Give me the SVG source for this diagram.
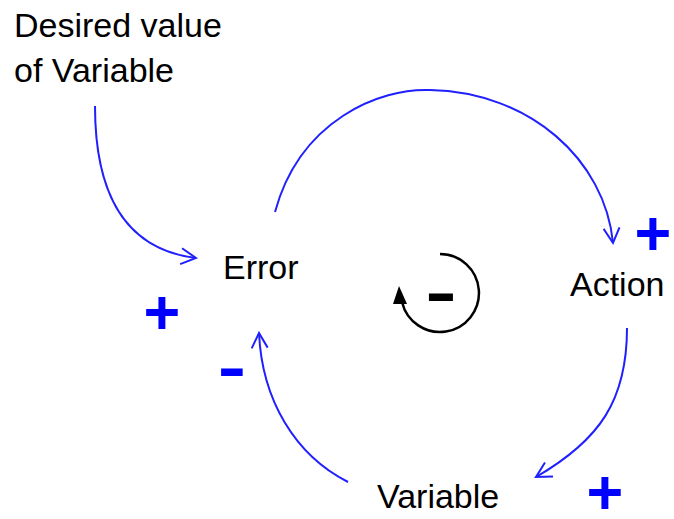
<svg xmlns="http://www.w3.org/2000/svg" width="674" height="519" viewBox="0 0 674 519">
<style>
.lbl{font-family:"Liberation Sans",Arial,sans-serif;font-size:34px;fill:#000}
.sign{font-family:"Liberation Sans",Arial,sans-serif;font-size:63px;font-weight:bold;fill:#0000ff;text-anchor:middle}
.link{fill:none;stroke:#2020ff;stroke-width:2;marker-end:url(#open)}
</style>
<defs>
<marker id="open" markerUnits="userSpaceOnUse" viewBox="-16 -9 18 18" refX="0" refY="0" markerWidth="18" markerHeight="18" orient="auto">
<path d="M-15,-8 L0,0 L-15,8" fill="none" stroke="#2020ff" stroke-width="2"/>
</marker>
</defs>
<rect width="674" height="519" fill="#fff"/>
<g id="desired"><text class="lbl" x="14" y="37">Desired value</text><text class="lbl" x="14" y="82">of Variable</text></g>
<g id="error"><text class="lbl" x="223" y="279">Error</text></g>
<g id="action"><text class="lbl" x="570" y="296">Action</text></g>
<g id="variable"><text class="lbl" x="377" y="508">Variable</text></g>
<g id="connectors">
<path class="link" d="M95,106 C95,200 130,250 196,258"/>
<path class="link" d="M275,212 C300,120 380,88 430,90 C530,92 605,160 613,243"/>
<path class="link" d="M627,328 C627,400 600,440 536,477"/>
<path class="link" d="M348,482 C295,455 262,400 259,333"/>
</g>
<g id="polarities">
<text class="sign" x="653" y="255">+</text>
<text class="sign" x="162" y="334">+</text>
<text class="sign" x="605" y="514">+</text>
<text class="sign" transform="translate(232,389) scale(1.35,1)" x="0" y="0">-</text>
</g>
<g id="loop">
<path d="M440,254 A39,39 0 1,1 402,302" fill="none" stroke="#000" stroke-width="2.5"/>
<path d="M399,286 L393,304 L407,304 Z" fill="#000"/>
<text transform="translate(441,314) scale(1.5,1)" x="0" y="0" font-family="Liberation Sans,Arial,sans-serif" font-size="63" font-weight="bold" text-anchor="middle" fill="#000">-</text>
</g>
</svg>
